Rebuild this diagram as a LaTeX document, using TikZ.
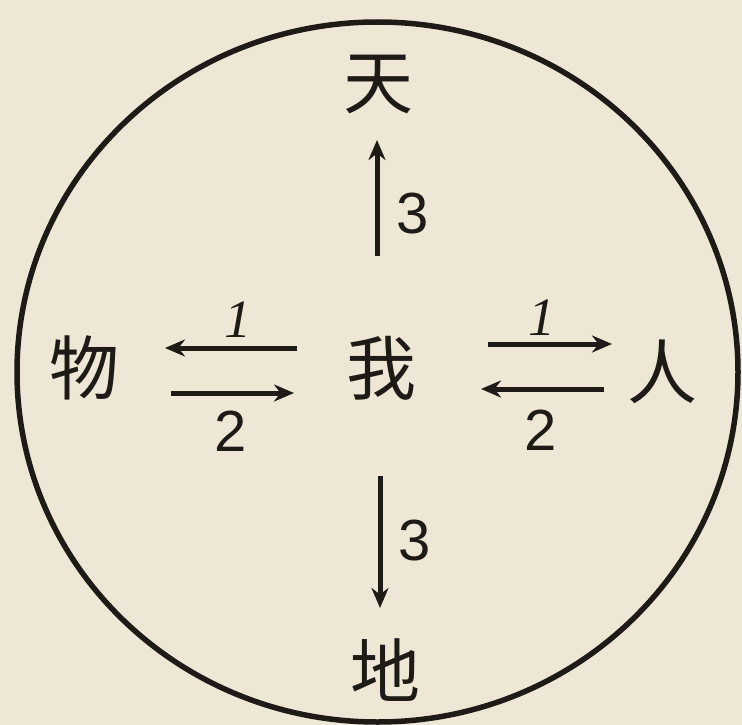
\documentclass[tikz,border=0pt]{standalone}
\usepackage{fontspec}
\newfontfamily\cjk{Noto Sans CJK SC}
\newfontfamily\serifit{Liberation Serif}
\setmainfont{Liberation Sans}
\usetikzlibrary{arrows.meta}
\definecolor{paper}{RGB}{239,231,214}
\definecolor{ink}{RGB}{30,26,22}
\tikzset{
  hanzi/.style={font=\cjk\fontsize{70}{70}\selectfont, text=ink, inner sep=0pt},
  numlab/.style={font=\fontsize{58}{58}\selectfont, text=ink, inner sep=0pt},
  onelab/.style={font=\serifit\itshape\fontsize{54}{54}\selectfont, text=ink, inner sep=0pt},
  flow/.style={draw=ink, line width=5pt, -{Stealth[length=20pt,width=17pt]}},
  rim/.style={draw=ink, line width=5.5pt}
}
\begin{document}
\begin{tikzpicture}[x=1pt,y=-1pt]
\fill[paper] (0,0) rectangle (742,725);
\useasboundingbox (0,0) rectangle (742,725);
\draw[rim] (377.5,372) ellipse [x radius=360.5, y radius=350];
\node[hanzi] (tian) at (378,85) {天};
\node[hanzi] (di) at (385,670) {地};
\node[hanzi] (wu) at (84,368) {物};
\node[hanzi] (ren) at (662,372) {人};
\node[hanzi] (wo) at (381,368) {我};
% coordinates of arrow ends
\coordinate (u1) at (377,256);
\coordinate (u2) at (377,140);
\coordinate (d1) at (380,476);
\coordinate (d2) at (380,608);
\coordinate (lt1) at (297,348);
\coordinate (lt2) at (165,348);
\coordinate (lb1) at (171,393);
\coordinate (lb2) at (294,393);
\coordinate (rt1) at (488,344);
\coordinate (rt2) at (612,344);
\coordinate (rb1) at (604,389);
\coordinate (rb2) at (481,389);
\draw[flow] (u1) -- (u2);
\draw[flow] (d1) -- (d2);
\draw[flow] (lt1) -- (lt2);
\draw[flow] (lb1) -- (lb2);
\draw[flow] (rt1) -- (rt2);
\draw[flow] (rb1) -- (rb2);
\node[numlab] (n3u) at (413,214) {3};
\node[numlab] (n3d) at (415,541) {3};
\node[onelab] (n1l) at (238,320) {1};
\node[numlab] (n2l) at (231,431) {2};
\node[onelab] (n1r) at (542,318) {1};
\node[numlab] (n2r) at (541,430) {2};
\end{tikzpicture}
\end{document}
